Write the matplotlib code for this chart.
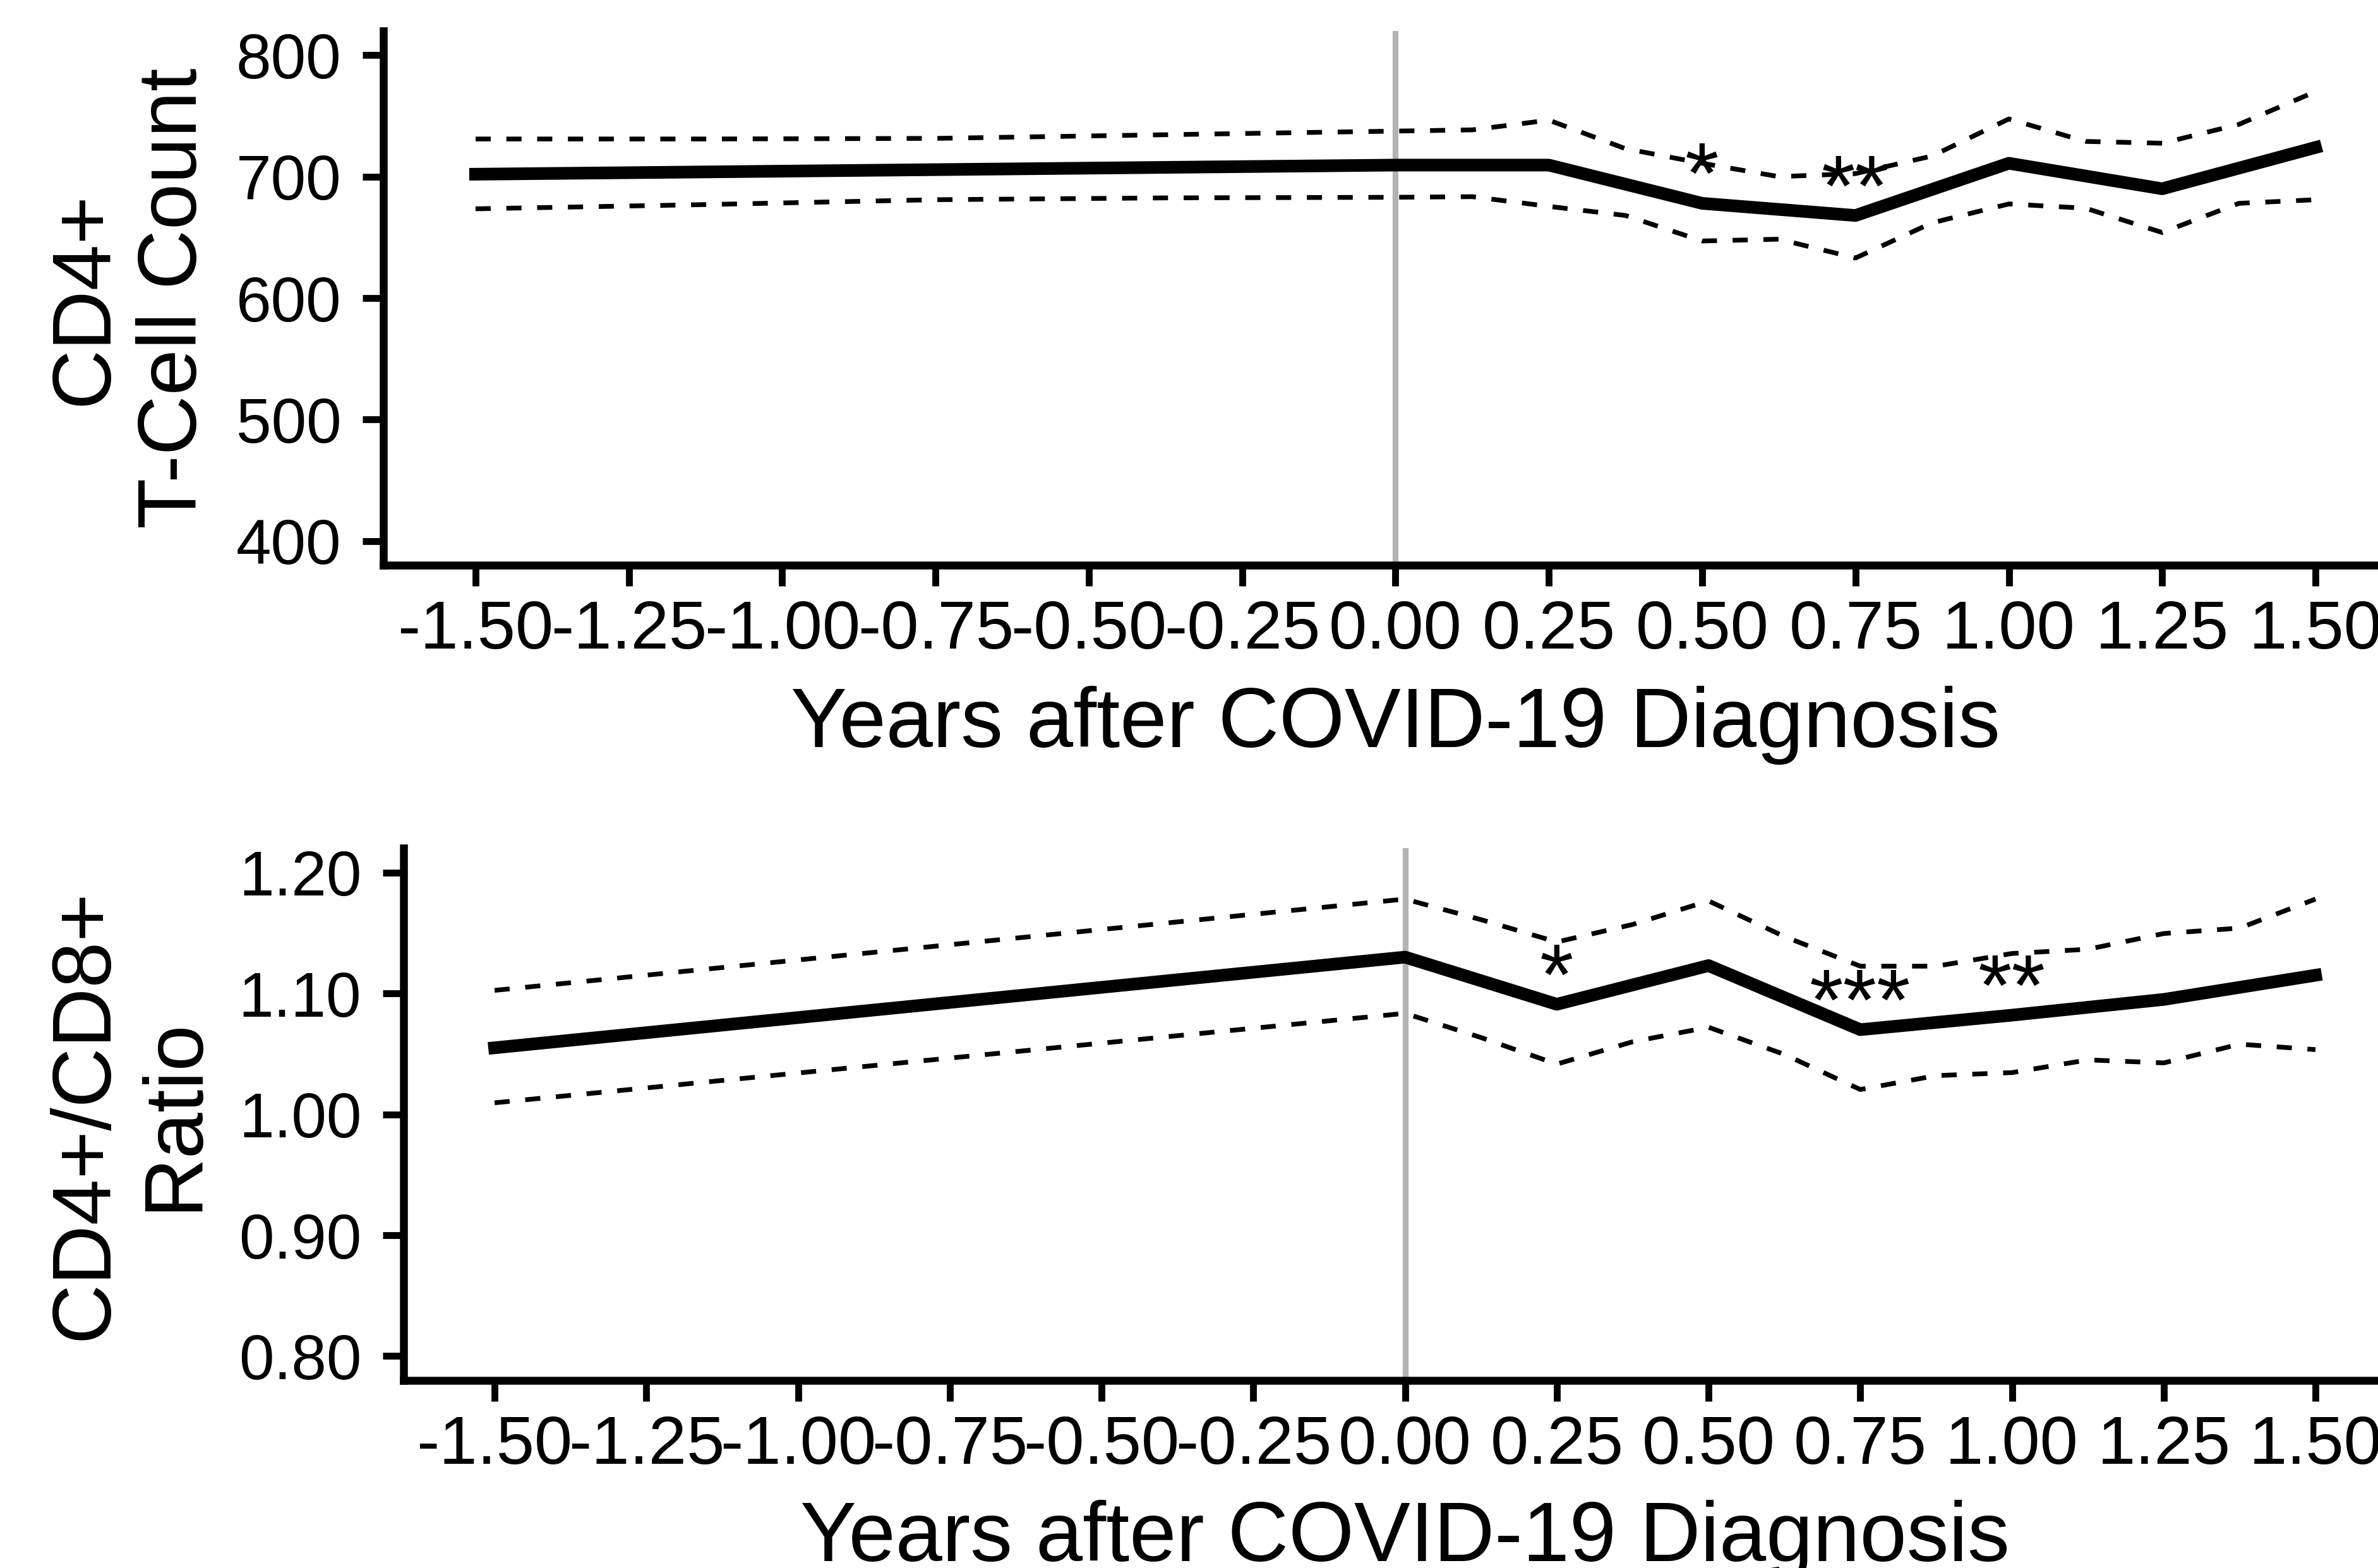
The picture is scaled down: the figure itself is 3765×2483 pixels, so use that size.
import numpy as np
import matplotlib.pyplot as plt
import matplotlib.transforms as mtransforms

plt.rcParams['font.family'] = 'Liberation Sans'
plt.rcParams['axes.unicode_minus'] = False

# x positions (years after diagnosis)
years_mean = [-1.5, 0.0, 0.25, 0.5, 0.75, 1.0, 1.25, 1.5]
x_ticks = [-1.5, -1.25, -1.0, -0.75, -0.5, -0.25, 0.0, 0.25, 0.5, 0.75, 1.0, 1.25, 1.5]
x_tick_labels = ['-1.50', '-1.25', '-1.00', '-0.75', '-0.50', '-0.25', '0.00',
                 '0.25', '0.50', '0.75', '1.00', '1.25', '1.50']

# CD4+ T-cell count
cd4_mean = [702, 709.5, 709.5, 678, 668, 711, 690, 724]
cd4_ci_years = [-1.5, -1.125, -0.75, -0.375, 0.0, 0.125, 0.25, 0.375, 0.5,
                0.625, 0.75, 0.875, 1.0, 1.125, 1.25, 1.375, 1.5]
cd4_upper = [731, 731, 731.5, 734.5, 737.5, 738.5, 746.5, 723, 711,
             700, 702.5, 717, 747.5, 729, 727.5, 743, 770]
cd4_lower = [673.5, 677, 681, 682.5, 683, 683.5, 675.5, 668, 647,
             648.5, 633, 662, 677.5, 674, 654, 678, 681]
cd4_yticks = [400, 500, 600, 700, 800]
cd4_stars_x = [0.5, 0.75]
cd4_stars_y = [678, 668]
cd4_stars = ['*', '**']

# CD4+/CD8+ ratio
ratio_mean = [1.055, 1.130, 1.091, 1.123, 1.070, 1.082, 1.095, 1.115]
ratio_ci_years = [-1.5, 0.0, 0.125, 0.25, 0.375, 0.5, 0.625, 0.75,
                  0.875, 1.0, 1.125, 1.25, 1.375, 1.5]
ratio_upper = [1.1025, 1.178, 1.161, 1.1425, 1.157, 1.1765, 1.147, 1.1225,
               1.1225, 1.133, 1.1365, 1.1495, 1.154, 1.178]
ratio_lower = [1.0095, 1.0835, 1.0635, 1.0415, 1.06, 1.072, 1.0495, 1.0205,
               1.032, 1.0345, 1.045, 1.0425, 1.058, 1.0535]
ratio_yticks = [0.80, 0.90, 1.00, 1.10, 1.20]
ratio_stars_x = [0.25, 0.75, 1.0]
ratio_stars_y = [1.091, 1.070, 1.082]
ratio_stars = ['*', '***', '**']

W, H = 3765, 2483
fig = plt.figure(figsize=(W / 300, H / 300), dpi=300)
ax1 = fig.add_axes([0.1613, 0.6395, 0.8511, 0.3408])
ax2 = fig.add_axes([0.1697, 0.1197, 0.8423, 0.3393])

dash = (0, (3.2, 3.3))


def draw_panel(ax, mean, ci_x, upper, lower, yticks, ylim, ylabels, ylab,
               sx, sy, stars, xlab_y):
    ax.axvline(0, color='#b3b3b3', lw=2.2, zorder=1)
    ax.plot(years_mean, mean, color='black', lw=4.8, solid_joinstyle='round', zorder=3)
    ax.plot(ci_x, upper, color='black', lw=1.8, linestyle=dash, zorder=2)
    ax.plot(ci_x, lower, color='black', lw=1.8, linestyle=dash, zorder=2)
    for x, y, s in zip(sx, sy, stars):
        ax.text(x, y, s, ha='center', va='baseline', fontsize=33, zorder=4)

    ax.set_xlim(-1.65, 1.65)
    ax.set_ylim(*ylim)
    ax.set_xticks(x_ticks)
    ax.set_xticklabels(x_tick_labels)
    ax.set_yticks(yticks)
    ax.set_yticklabels(ylabels)
    for side in ['top', 'right']:
        ax.spines[side].set_visible(False)
    for side in ['left', 'bottom']:
        ax.spines[side].set_linewidth(3)
    ax.tick_params(axis='both', length=8, width=2.6, color='black')
    ax.tick_params(axis='x', pad=5, labelsize=26)
    ax.tick_params(axis='y', pad=8, labelsize=24)

    ax.set_xlabel('Years after COVID-19 Diagnosis', fontsize=32)
    ax.xaxis.set_label_coords(0.5, xlab_y,
                              transform=mtransforms.blended_transform_factory(ax.transAxes, fig.transFigure))
    ax.set_ylabel(ylab, fontsize=31.5, multialignment='center', linespacing=1.2)
    ax.yaxis.set_label_coords(0.0898, 0.5,
                              transform=mtransforms.blended_transform_factory(fig.transFigure, ax.transAxes))


draw_panel(ax1, cd4_mean, cd4_ci_years, cd4_upper, cd4_lower, cd4_yticks, (380, 820),
           [str(v) for v in cd4_yticks], 'CD4+\nT-Cell Count',
           cd4_stars_x, cd4_stars_y, cd4_stars, 0.5626)
draw_panel(ax2, ratio_mean, ratio_ci_years, ratio_upper, ratio_lower, ratio_yticks, (0.78, 1.22),
           ['%.2f' % v for v in ratio_yticks], 'CD4+/CD8+\nRatio',
           ratio_stars_x, ratio_stars_y, ratio_stars, 0.0435)

fig.savefig('out.png', dpi=300)
